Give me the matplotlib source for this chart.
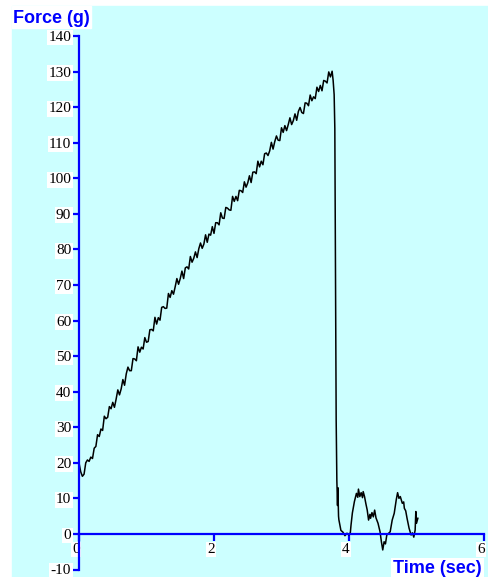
import numpy as np
import matplotlib.pyplot as plt
from matplotlib.patches import Rectangle
from matplotlib.transforms import ScaledTranslation

# ramp phase, sampled every 25 ms from t = 0
dt = 0.025
ramp_force = [
    20.0, 17.5, 16.2, 16.8, 20.0, 20.8, 20.4, 21.6, 21.2, 24.1,
    24.6, 27.9, 27.4, 29.5, 29.1, 33.1, 32.4, 32.8, 35.8, 35.2,
    37.0, 35.6, 37.9, 40.5, 39.1, 40.8, 43.4, 41.8, 45.0, 46.9,
    45.9, 45.9, 49.3, 49.2, 48.7, 52.6, 51.1, 52.5, 52.0, 55.2,
    53.9, 54.1, 57.4, 57.5, 57.1, 60.9, 59.0, 60.8, 60.1, 63.7,
    63.9, 63.4, 63.5, 67.6, 66.5, 68.4, 67.4, 69.5, 71.8, 70.2,
    71.8, 73.9, 71.8, 74.8, 75.1, 74.5, 78.0, 76.4, 77.5, 79.3,
    77.7, 80.2, 81.8, 80.3, 81.5, 84.1, 82.0, 84.3, 84.0, 86.4,
    84.5, 87.5, 87.5, 86.9, 90.3, 88.8, 88.7, 91.8, 91.6, 91.1,
    91.0, 94.9, 93.5, 94.9, 93.7, 96.6, 96.5, 96.0, 99.0, 97.5,
    98.7, 100.7, 98.8, 101.7, 101.8, 101.3, 104.8, 103.2, 104.8, 103.8,
    106.9, 107.1, 106.4, 107.7, 110.1, 108.2, 110.3, 111.9, 110.7, 110.6,
    114.2, 112.9, 114.8, 113.4, 115.1, 117.0, 115.1, 116.2, 118.1, 116.3,
    118.8, 119.9, 118.5, 118.2, 121.2, 121.1, 120.4, 123.4, 121.8, 122.9,
    122.4, 125.6, 124.4, 126.1, 124.6, 127.5, 127.3, 126.8, 129.9, 128.5,
    130.1,
]

# break and rebound after the peak
tail_time = [
    3.765, 3.78, 3.79, 3.80, 3.81, 3.82, 3.83, 3.835, 3.845, 3.85,
    3.88, 3.91, 3.94, 3.97, 4.00, 4.02, 4.03, 4.05, 4.08,
    4.11, 4.13, 4.14, 4.16, 4.18, 4.20, 4.21, 4.23, 4.25, 4.27,
    4.29, 4.31, 4.32, 4.34, 4.36, 4.38, 4.40, 4.43, 4.46, 4.48,
    4.50, 4.52, 4.54, 4.56, 4.61, 4.64, 4.67, 4.70, 4.72, 4.74,
    4.76, 4.79, 4.81, 4.82, 4.84, 4.86, 4.89, 4.92, 4.94, 4.96,
    4.98, 4.99, 5.00, 5.02,
]
tail_force = [
    127.5, 123.5, 114.0, 75.0, 32.0, 15.0, 8.0, 13.0, 5.0, 4.0,
    1.0, 0.5, -0.5, 0.2, -0.3, 0.4, 2.5, 5.9, 9.1,
    11.4, 10.3, 12.6, 10.5, 11.6, 10.2, 11.9, 10.5, 8.5, 6.7,
    3.9, 5.5, 4.4, 6.0, 4.8, 6.7, 4.5, 3.0, 0.6, -2.2,
    -4.5, -2.2, -2.8, -0.3, 0.6, 3.9, 5.8, 9.6, 11.6, 10.0,
    10.5, 8.6, 9.0, 7.2, 6.5, 4.4, 1.6, -0.3, 0.3, -0.9,
    1.1, 6.3, 3.0, 4.4,
]

y_ticks = list(range(-10, 141, 10))
x_ticks = [0, 2, 4, 6]

blue = '#0000ff'
cyan = '#ccffff'
W, H = 489, 577

ramp_time = np.arange(len(ramp_force)) * dt
time = np.concatenate([ramp_time, tail_time])
force = np.concatenate([ramp_force, tail_force])

fig = plt.figure(figsize=(W / 100, H / 100), dpi=100, facecolor='white')
fig.patches.append(Rectangle((12 / W, 0), (W - 12) / W, 571 / H,
                             transform=fig.transFigure, color=cyan, zorder=-2))
fig.patches.append(Rectangle((12 / W, 1 - 28 / H), 79 / W, 22 / H,
                             transform=fig.transFigure, color='white', zorder=-1))

ax = fig.add_axes([79 / W, 1 - 569.5 / H, 405 / W, 533.5 / H])
ax.patch.set_visible(False)
ax.plot(time, force, color='black', lw=1.1)

ax.set_xlim(0, 6)
ax.set_ylim(-10, 140)
for s in ['top', 'right']:
    ax.spines[s].set_visible(False)
ax.spines['bottom'].set_position(('data', 0))
for s in ['left', 'bottom']:
    ax.spines[s].set_color(blue)
    ax.spines[s].set_linewidth(1.6)

serif = 'Liberation Serif'
ax.set_yticks(y_ticks)
ax.set_yticklabels([str(v) for v in y_ticks], fontfamily=serif, fontsize=11)
ax.set_xticks(x_ticks)
ax.set_xticklabels([str(v) for v in x_ticks], fontfamily=serif, fontsize=11)
ax.tick_params(axis='both', direction='out', length=5, width=1.6,
               color=blue, labelcolor='black')
ax.tick_params(axis='y', pad=0.6)
ax.tick_params(axis='x', pad=1.5)

shift = ScaledTranslation(-0.03, 0, fig.dpi_scale_trans)
for lbl in ax.get_xticklabels():
    lbl.set_transform(lbl.get_transform() + shift)
for lbl in ax.get_xticklabels() + ax.get_yticklabels():
    lbl.set_bbox(dict(facecolor='white', edgecolor='none', pad=1))

fig.text(13 / W, 1 - 23 / H, 'Force (g)', color=blue, fontweight='bold',
         fontfamily='Liberation Sans', fontsize=13, va='baseline', ha='left')
fig.text(393 / W, 1 - 573 / H, 'Time (sec)', color=blue, fontweight='bold',
         fontfamily='Liberation Sans', fontsize=13, va='baseline', ha='left',
         bbox=dict(facecolor='white', edgecolor='none', pad=1.5))

fig.savefig('out.png', dpi=100)
